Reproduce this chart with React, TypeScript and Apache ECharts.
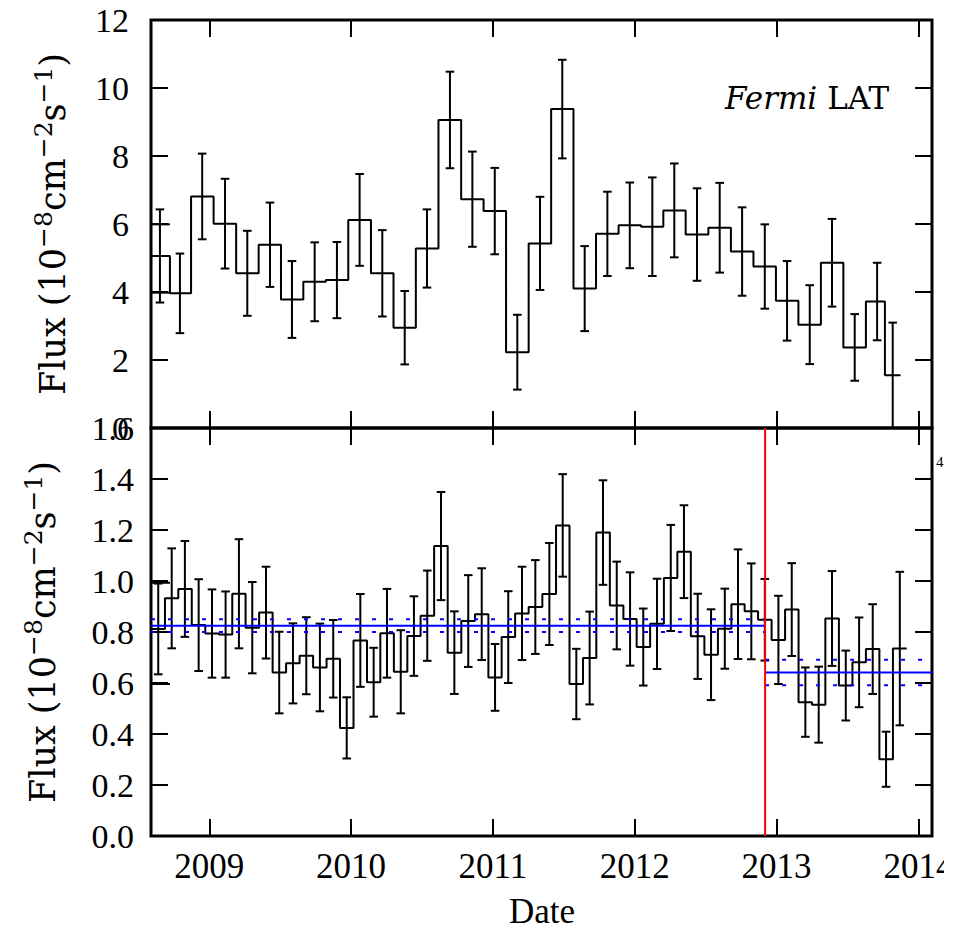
import React, { useEffect, useRef } from "react";
import * as echarts from "echarts";

// Shared date axis (decimal years)
const X_MIN = 2008.589;
const X_MAX = 2014.096;
const yearTicks = [2009, 2010, 2011, 2012, 2013, 2014];

// Upper panel: Fermi LAT light curve, coarse bins
const topDates = [
  2008.652, 2008.793, 2008.95, 2009.111, 2009.268, 2009.428, 2009.583, 2009.743, 2009.9, 2010.06,
  2010.22, 2010.378, 2010.535, 2010.697, 2010.855, 2011.013, 2011.172, 2011.332, 2011.489, 2011.647,
  2011.807, 2011.965, 2012.124, 2012.279, 2012.439, 2012.599, 2012.757, 2012.917, 2013.074, 2013.234,
  2013.391, 2013.551, 2013.709, 2013.819,
];
const topFlux = [
  5.06, 3.96, 6.81, 6.01, 4.55, 5.39, 3.78, 4.3, 4.35, 6.12,
  4.55, 2.95, 5.28, 9.06, 6.73, 6.38, 2.23, 5.43, 9.38, 4.1,
  5.71, 5.96, 5.92, 6.4, 5.69, 5.89, 5.19, 4.75, 3.74, 3.04,
  4.86, 2.37, 3.72, 1.55,
];
const topErr = [
  1.37, 1.17, 1.26, 1.32, 1.25, 1.24, 1.13, 1.16, 1.12, 1.35,
  1.27, 1.08, 1.15, 1.42, 1.4, 1.27, 1.1, 1.37, 1.45, 1.25,
  1.24, 1.26, 1.45, 1.38, 1.36, 1.32, 1.3, 1.24, 1.17, 1.16,
  1.29, 0.98, 1.14, 1.55,
];
const topLeadLevels = [5.99, 3.98];
const topTicksY = { min: 0, max: 12, interval: 2 };

// Lower panel: finer bins
const lowDates = [
  2008.64, 2008.735, 2008.828, 2008.925, 2009.019, 2009.115, 2009.209, 2009.303, 2009.4, 2009.493,
  2009.59, 2009.684, 2009.78, 2009.874, 2009.969, 2010.065, 2010.159, 2010.253, 2010.35, 2010.443,
  2010.537, 2010.634, 2010.728, 2010.826, 2010.921, 2011.015, 2011.108, 2011.205, 2011.299, 2011.398,
  2011.492, 2011.588, 2011.682, 2011.776, 2011.873, 2011.967, 2012.06, 2012.157, 2012.254, 2012.347,
  2012.444, 2012.538, 2012.635, 2012.728, 2012.822, 2012.917, 2013.013, 2013.107, 2013.203, 2013.297,
  2013.391, 2013.488, 2013.582, 2013.678, 2013.772, 2013.869,
];
const lowFlux = [
  0.812, 0.932, 0.969, 0.827, 0.794, 0.79, 0.95, 0.817, 0.876, 0.641,
  0.677, 0.707, 0.661, 0.695, 0.424, 0.767, 0.603, 0.795, 0.644, 0.784,
  0.864, 1.137, 0.719, 0.843, 0.87, 0.622, 0.78, 0.873, 0.898, 0.949,
  1.218, 0.596, 0.698, 1.19, 0.904, 0.851, 0.741, 0.832, 1.012, 1.115,
  0.783, 0.711, 0.813, 0.909, 0.881, 0.848, 0.769, 0.888, 0.525, 0.515,
  0.853, 0.59, 0.681, 0.733, 0.301, 0.735,
];
const lowErr = [
  0.178, 0.196, 0.188, 0.18, 0.173, 0.169, 0.214, 0.179, 0.18, 0.16,
  0.157, 0.151, 0.172, 0.152, 0.12, 0.182, 0.135, 0.174, 0.163, 0.156,
  0.177, 0.212, 0.162, 0.18, 0.18, 0.131, 0.18, 0.183, 0.184, 0.2,
  0.201, 0.138, 0.182, 0.205, 0.172, 0.183, 0.151, 0.177, 0.208, 0.182,
  0.167, 0.178, 0.157, 0.215, 0.188, 0.16, 0.173, 0.182, 0.136, 0.149,
  0.186, 0.137, 0.176, 0.176, 0.108, 0.301,
];
const lowLeadLevels = [0.993, 0.596];
const lowTicksY = { min: 0, max: 1.6, interval: 0.2 };

// Mean flux before and after the break, with 1-sigma band
const breakDate = 2012.919;
const meanBefore = 0.825;
const sigmaBefore = 0.025;
const meanAfter = 0.641;
const sigmaAfter = 0.05;

const SERIF = '"Liberation Serif", "Times New Roman", serif';
const TITLE_SERIF = '"DejaVu Serif", serif';

// Histogram-style outline: each bin spans half-way to its neighbours
function stepOutline(dates: number[], flux: number[]) {
  const n = dates.length;
  const pts: number[][] = [];
  for (let i = 0; i < n; i++) {
    const left = i === 0 ? dates[0] - (dates[1] - dates[0]) / 2 : (dates[i - 1] + dates[i]) / 2;
    const right = i === n - 1 ? dates[n - 1] + (dates[n - 1] - dates[n - 2]) / 2 : (dates[i] + dates[i + 1]) / 2;
    pts.push([left, flux[i]], [right, flux[i]]);
  }
  return pts;
}

const errorBarItem = (_params: any, api: any) => {
  const x = api.value(0);
  const y = api.value(1);
  const e = api.value(2);
  const hi = api.coord([x, y + e]);
  const lo = api.coord([x, y - e]);
  const hw = 4.3;
  const style = { stroke: "#000", lineWidth: 2 };
  return {
    type: "group",
    children: [
      { type: "line", shape: { x1: hi[0], y1: hi[1], x2: lo[0], y2: lo[1] }, style },
      { type: "line", shape: { x1: hi[0] - hw, y1: hi[1], x2: hi[0] + hw, y2: hi[1] }, style },
      { type: "line", shape: { x1: lo[0] - hw, y1: lo[1], x2: lo[0] + hw, y2: lo[1] }, style },
    ],
  };
};

function lineSeries(grid: number, data: number[][], color: string, type: any = "solid", z = 4) {
  return {
    type: "line",
    xAxisIndex: grid * 2,
    yAxisIndex: grid * 2,
    data,
    showSymbol: false,
    symbol: "none",
    silent: true,
    clip: true,
    z,
    lineStyle: { color, width: 2, type },
  };
}

function xAxis(gridIndex: number, position: string, labels: boolean) {
  return {
    type: "value",
    gridIndex,
    position,
    min: X_MIN,
    max: X_MAX,
    axisLine: { show: false, onZero: false },
    splitLine: { show: false },
    axisTick: {
      show: true,
      inside: true,
      length: 17,
      customValues: yearTicks,
      lineStyle: { color: "#000", width: 2 },
    },
    axisLabel: labels
      ? {
          show: true,
          customValues: yearTicks,
          formatter: (v: number) => String(Math.round(v)),
          margin: 13,
          color: "#000",
          fontFamily: SERIF,
          fontSize: 35,
        }
      : { show: false },
  };
}

function yAxis(gridIndex: number, position: string, range: any, labelMargin: number | null, decimals: number) {
  return {
    type: "value",
    gridIndex,
    position,
    min: range.min,
    max: range.max,
    interval: range.interval,
    axisLine: { show: false, onZero: false },
    splitLine: { show: false },
    axisTick: { show: true, inside: true, length: 17, lineStyle: { color: "#000", width: 2 } },
    axisLabel:
      labelMargin === null
        ? { show: false }
        : {
            show: true,
            margin: labelMargin,
            formatter: (v: number) => v.toFixed(decimals),
            color: "#000",
            fontFamily: SERIF,
            fontSize: 34,
          },
  };
}

const fluxTitle = "{n|Flux (10}{s|−8}{n|cm}{s|−2}{n|s}{s|−1}{n|)}";
const fluxRich = {
  n: { fontFamily: TITLE_SERIF, fontSize: 35, lineHeight: 45, fill: "#000" },
  s: { fontFamily: TITLE_SERIF, fontSize: 25, lineHeight: 25, verticalAlign: "top", fill: "#000" },
};

function buildOption() {
  const topLeadEnd = (topDates[0] + topDates[1]) / 2;
  const series: any[] = [
    lineSeries(0, stepOutline(topDates, topFlux), "#000", "solid", 3),
    ...topLeadLevels.map((v) => lineSeries(0, [[X_MIN - 0.05, v], [topLeadEnd, v]], "#000", "solid", 3)),
    {
      type: "custom",
      xAxisIndex: 0,
      yAxisIndex: 0,
      renderItem: errorBarItem,
      data: topDates.map((d, i) => [d, topFlux[i], topErr[i]]),
      encode: { x: 0, y: 1 },
      clip: true,
      silent: true,
      z: 3,
    },
    lineSeries(1, stepOutline(lowDates, lowFlux), "#000", "solid", 3),
    ...lowLeadLevels.map((v) => lineSeries(1, [[X_MIN - 0.05, v], [topLeadEnd, v]], "#000", "solid", 3)),
    {
      type: "custom",
      xAxisIndex: 2,
      yAxisIndex: 2,
      renderItem: errorBarItem,
      data: lowDates.map((d, i) => [d, lowFlux[i], lowErr[i]]),
      encode: { x: 0, y: 1 },
      clip: true,
      silent: true,
      z: 3,
    },
    lineSeries(1, [[X_MIN, meanBefore], [breakDate, meanBefore]], "#0000ff"),
    lineSeries(1, [[X_MIN, meanBefore + sigmaBefore], [breakDate, meanBefore + sigmaBefore]], "#0000ff", [4, 13]),
    lineSeries(1, [[X_MIN, meanBefore - sigmaBefore], [breakDate, meanBefore - sigmaBefore]], "#0000ff", [4, 13]),
    lineSeries(1, [[breakDate, meanAfter], [X_MAX, meanAfter]], "#0000ff"),
    lineSeries(1, [[breakDate, meanAfter + sigmaAfter], [X_MAX, meanAfter + sigmaAfter]], "#0000ff", [4, 13]),
    lineSeries(1, [[breakDate, meanAfter - sigmaAfter], [X_MAX, meanAfter - sigmaAfter]], "#0000ff", [4, 13]),
    lineSeries(1, [[breakDate, lowTicksY.min], [breakDate, lowTicksY.max]], "#ff0000", "solid", 5),
  ];

  const gridBase = {
    left: 151,
    width: 781,
    height: 408,
    show: true,
    borderColor: "#000",
    borderWidth: 3,
    containLabel: false,
    outerBoundsMode: "none",
  };

  return {
    animation: false,
    backgroundColor: "#fff",
    grid: [
      { ...gridBase, top: 20 },
      { ...gridBase, top: 428 },
    ],
    xAxis: [xAxis(0, "bottom", false), xAxis(0, "top", false), xAxis(1, "bottom", true), xAxis(1, "top", false)],
    yAxis: [
      yAxis(0, "left", topTicksY, 22, 0),
      yAxis(0, "right", topTicksY, null, 0),
      yAxis(1, "left", lowTicksY, 17, 1),
      yAxis(1, "right", lowTicksY, null, 1),
    ],
    series,
    graphic: [
      {
        type: "text",
        x: 53,
        y: 224,
        rotation: Math.PI / 2,
        style: { text: fluxTitle, rich: fluxRich, align: "center", verticalAlign: "middle", fill: "#000" },
      },
      {
        type: "text",
        x: 43,
        y: 632,
        rotation: Math.PI / 2,
        style: { text: fluxTitle, rich: fluxRich, align: "center", verticalAlign: "middle", fill: "#000" },
      },
      {
        type: "text",
        x: 725,
        y: 98,
        style: {
          text: "{i|Fermi}{n| LAT}",
          rich: {
            i: { fontFamily: TITLE_SERIF, fontStyle: "italic", fontSize: 31, fill: "#000" },
            n: { fontFamily: TITLE_SERIF, fontSize: 31, fill: "#000" },
          },
          align: "left",
          verticalAlign: "middle",
        },
      },
      {
        type: "text",
        x: 542,
        y: 911,
        style: { text: "Date", fontFamily: SERIF, fontSize: 35, fill: "#000", align: "center", verticalAlign: "middle" },
      },
      {
        type: "text",
        x: 936,
        y: 462,
        style: { text: "4", fontFamily: SERIF, fontSize: 15, fill: "#000", align: "left", verticalAlign: "middle" },
      },
    ],
  };
}

export default function App() {
  const ref = useRef<HTMLDivElement>(null);
  useEffect(() => {
    if (!ref.current) return;
    const chart = echarts.init(ref.current, undefined, { renderer: "svg" });
    chart.setOption(buildOption() as any);
    return () => chart.dispose();
  }, []);
  return (
    <div
      ref={ref}
      style={{ position: "fixed", left: 0, top: 0, width: 944, height: 931, background: "#fff", overflow: "hidden" }}
    />
  );
}
